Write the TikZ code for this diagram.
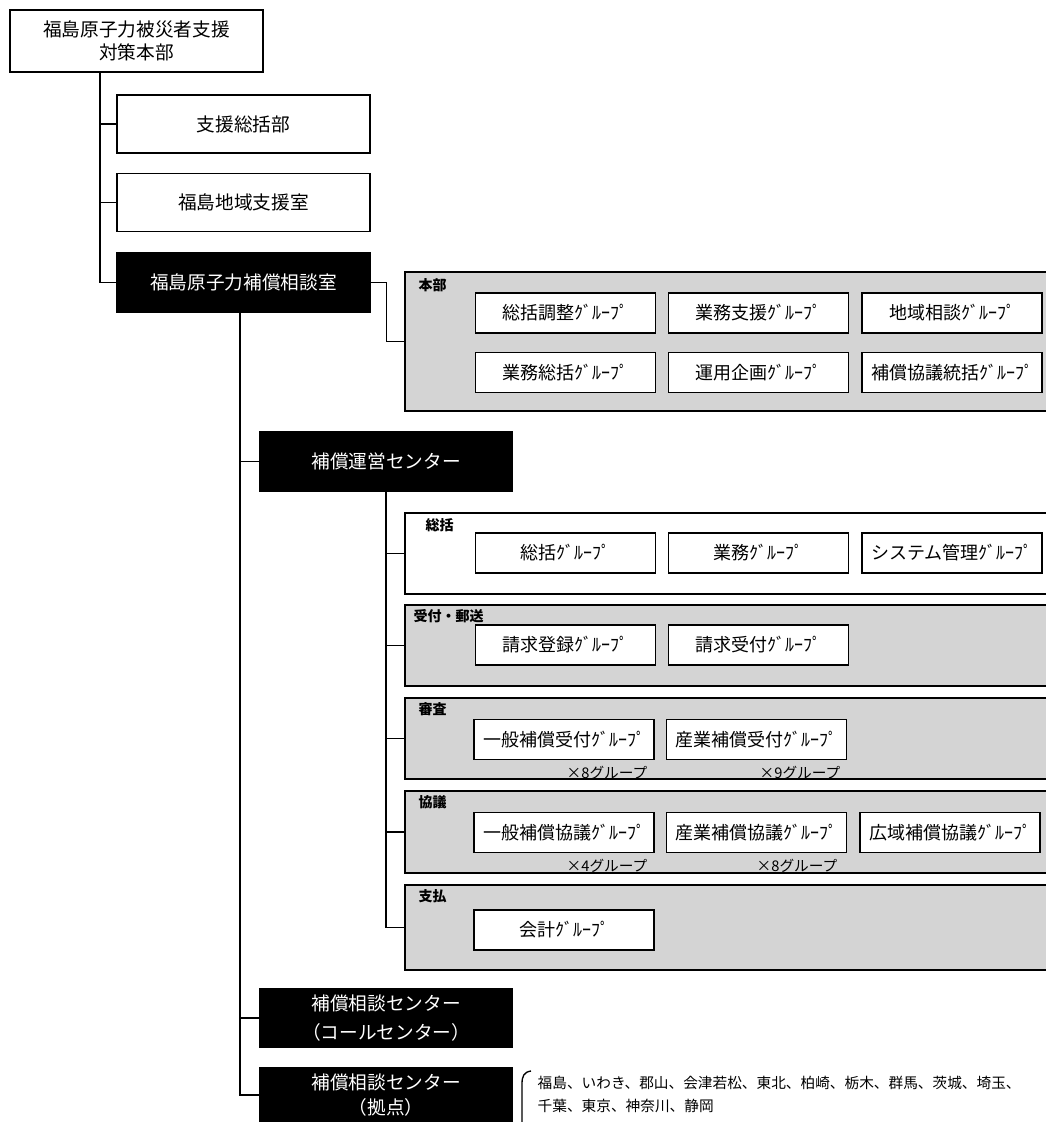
\documentclass[tikz,border=0pt]{standalone}
\usepackage{fontspec}
\setmainfont{Noto Sans CJK JP}
\begin{document}
\begin{tikzpicture}[x=0.75pt,y=-0.75pt,line width=1pt,
  wbox/.style={draw, fill=white, minimum width=189.75pt, minimum height=43.5pt, inner sep=0pt, align=center, font=\fontsize{14}{17}\selectfont},
  bbox/.style={draw, fill=black, text=white, minimum width=189pt, minimum height=44.25pt, inner sep=0pt, align=center, font=\fontsize{14}{18}\selectfont},
  panel/.style={draw, minimum width=483.75pt, inner sep=0pt},
  stip/.style={panel, fill=black!17},
  grp/.style={draw, fill=white, minimum width=135pt, minimum height=30pt, inner sep=0pt, font=\fontsize{13.5}{16}\selectfont},
  plabel/.style={anchor=north west, inner sep=0pt, font=\fontsize{10.5}{12}\selectfont\bfseries},
  sub/.style={inner sep=0pt, font=\fontsize{11}{13}\selectfont},
  conn/.style={line width=1pt}
]
\useasboundingbox (0,0) rectangle (1046,1122);
\clip (0,0) rectangle (1046,1122);

% top-level boxes
\node[wbox, minimum height=46.5pt] (top) at (136.5,41) {福島原子力被災者支援\\対策本部};
\node[wbox] (b1) at (243.5,124) {支援総括部};
\node[wbox] (b2) at (243.5,202.5) {福島地域支援室};
\node[bbox, minimum width=189.75pt] (b3) at (243.5,282.5) {福島原子力補償相談室};

% panel 本部
\node[stip, minimum height=104.25pt] (honbu) at (727.5,341.5) {};
\node[plabel] (lhonbu) at (418,278) {本部};
\node[grp] (g11) at (565.5,313) {総括調整ｸﾞﾙｰﾌﾟ};
\node[grp] (g12) at (758.5,313) {業務支援ｸﾞﾙｰﾌﾟ};
\node[grp] (g13) at (952,313) {地域相談ｸﾞﾙｰﾌﾟ};
\node[grp] (g21) at (565.5,372.5) {業務総括ｸﾞﾙｰﾌﾟ};
\node[grp] (g22) at (758.5,372.5) {運用企画ｸﾞﾙｰﾌﾟ};
\node[grp] (g23) at (952,372.5) {補償協議統括ｸﾞﾙｰﾌﾟ};

% 補償運営センター
\node[bbox] (c1) at (386,461.5) {補償運営センター};

% panel 総括
\node[panel, fill=white, minimum height=60.75pt] (psou) at (727.5,553.5) {};
\node[plabel] (lsou) at (425,518) {総括};
\node[grp] (s1) at (565.5,553) {総括ｸﾞﾙｰﾌﾟ};
\node[grp] (s2) at (758.5,553) {業務ｸﾞﾙｰﾌﾟ};
\node[grp] (s3) at (952,553) {システム管理ｸﾞﾙｰﾌﾟ};

% panel 受付・郵送
\node[stip, minimum height=60.75pt] (puke) at (727.5,645.5) {};
\node[plabel] (luke) at (413,609) {受付・郵送};
\node[grp] (u1) at (565.5,645) {請求登録ｸﾞﾙｰﾌﾟ};
\node[grp] (u2) at (758.5,645) {請求受付ｸﾞﾙｰﾌﾟ};

% panel 審査
\node[stip, minimum height=60.75pt] (pshin) at (727.5,738.5) {};
\node[plabel] (lshin) at (418,702) {審査};
\node[grp] (h1) at (564,739.5) {一般補償受付ｸﾞﾙｰﾌﾟ};
\node[grp] (h2) at (756.5,739.5) {産業補償受付ｸﾞﾙｰﾌﾟ};
\node[sub] (h1n) at (607,773) {×8グループ};
\node[sub] (h2n) at (800,773) {×9グループ};

% panel 協議
\node[stip, minimum height=61.5pt] (pkyo) at (727.5,832) {};
\node[plabel] (lkyo) at (418,795) {協議};
\node[grp] (k1) at (564,832.5) {一般補償協議ｸﾞﾙｰﾌﾟ};
\node[grp] (k2) at (756.5,832.5) {産業補償協議ｸﾞﾙｰﾌﾟ};
\node[grp] (k3) at (950,832.5) {広域補償協議ｸﾞﾙｰﾌﾟ};
\node[sub] (k1n) at (607,866) {×4グループ};
\node[sub] (k2n) at (797,866) {×8グループ};

% panel 支払
\node[stip, minimum height=63.75pt] (pshi) at (727.5,927.5) {};
\node[plabel] (lshi) at (418,889) {支払};
\node[grp] (p1) at (564,930) {会計ｸﾞﾙｰﾌﾟ};

% 補償相談センター
\node[bbox, font=\fontsize{14}{21.5}\selectfont] (c2) at (386,1018) {補償相談センター\\（コールセンター）};
\node[bbox, minimum height=40.5pt, font=\fontsize{14}{19}\selectfont] (c3) at (386,1095) {補償相談センター\\（拠点）};

% bracket and list
\draw (531,1071) .. controls (524,1072) and (522,1076) .. (522,1084) -- (522,1122);
\node[anchor=west, inner sep=0pt, align=left, font=\fontsize{11}{17.5}\selectfont] (list) at (537,1094.5)
  {福島、いわき、郡山、会津若松、東北、柏崎、栃木、群馬、茨城、埼玉、\\千葉、東京、神奈川、静岡};

% connectors
\coordinate (t1) at (100,72);
\draw[conn] (t1) |- (b1.west);
\draw[conn] (t1) |- (b2.west);
\draw[conn] (t1) |- (b3.west);
\draw[conn] (b3.east) -- ++(16,0) |- (honbu.west);
\coordinate (t2) at (240,312);
\draw[conn] (t2) |- (c1.west);
\draw[conn] (t2) |- (c2.west);
\draw[conn] (t2) |- (c3.west);
\draw[conn] (c1.south) |- (psou.west);
\draw[conn] (c1.south) |- (puke.west);
\draw[conn] (c1.south) |- (pshin.west);
\draw[conn] (c1.south) |- (pkyo.west);
\draw[conn] (c1.south) |- (pshi.west);
\end{tikzpicture}
\end{document}
